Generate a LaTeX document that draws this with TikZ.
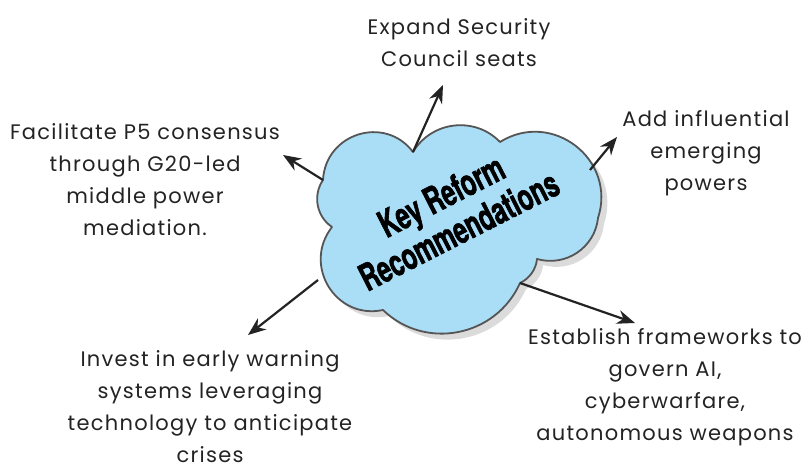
\documentclass[tikz,border=0pt]{standalone}
\usepackage{fontspec}
\setmainfont[LetterSpace=6]{Poppins}
\newfontfamily\headfont[FakeStretch=0.66, FakeBold=1.5]{texgyreheros-bold.otf}
\usetikzlibrary{positioning, arrows.meta, shadows}
\definecolor{cloudblue}{RGB}{170,222,246}
\definecolor{cloudline}{RGB}{85,85,85}
\definecolor{ink}{RGB}{35,35,35}
\tikzset{
    cloudbody/.style={draw=cloudline, line width=1.8pt, fill=cloudblue, line join=round,
        drop shadow={fill=black!14, opacity=1, shadow xshift=6pt, shadow yshift=-6pt}},
    cloudtitle/.style={font=\headfont\fontsize{37}{39}\selectfont, text=black, align=center, rotate=27},
    idea/.style={font=\fontsize{21}{32}\selectfont, text=ink, align=center, inner sep=0pt},
    pointer/.style={draw=ink, line width=2.2pt, -{Stealth[length=18pt, width=14pt]}}
}
\begin{document}
\begin{tikzpicture}[x=1pt, y=1pt]
	\useasboundingbox (0,0) rectangle (806,466);
	% the cloud, puff by puff
	\path[cloudbody] (413,314) to[out=127, in=87, looseness=1.27] (323,286)
		to[out=236, in=146] (332,239)
		to[out=232, in=192, looseness=1.27] (383,156)
		to[out=-44, in=-114, looseness=1.08] (520,183)
		to[out=25, in=-95, looseness=0.9] (537,207)
		to[out=-16, in=-96, looseness=1.04] (598,248)
		to[out=72, in=32, looseness=1.27] (500,324)
		to[out=134, in=59, looseness=1.06] cycle;
	\node(Title)[cloudtitle] at (450,253) {Key Reform\\Recommendations};
	\node(Expand)[idea] at (459,423) {Expand Security\\Council seats};
	\node(Add)[idea] at (706,313) {Add influential\\emerging\\powers};
	\node(Facilitate)[idea] at (145,286) {Facilitate P5 consensus\\through G20-led\\middle power\\mediation.};
	\node(Invest)[idea] at (210,59) {Invest in early warning\\systems leveraging\\technology to anticipate\\crises};
	\node(Establish)[idea] at (665,79) {Establish frameworks to\\govern AI,\\cyberwarfare,\\autonomous weapons};
	% where the arrows leave the cloud
	\coordinate(ExpandFoot) at (413,314);
	\coordinate(AddFoot) at (590,296);
	\coordinate(FacilitateFoot) at (323,286);
	\coordinate(InvestFoot) at (318,186);
	\coordinate(EstablishFoot) at (520,183);
	% arrow tips
	\coordinate(ExpandTip) at (443,381);
	\coordinate(AddTip) at (617,329);
	\coordinate(FacilitateTip) at (283,311);
	\coordinate(InvestTip) at (248,131);
	\coordinate(EstablishTip) at (635,143);
	\draw[pointer](ExpandFoot)--(ExpandTip);
	\draw[pointer](AddFoot)--(AddTip);
	\draw[pointer](FacilitateFoot)--(FacilitateTip);
	\draw[pointer](InvestFoot)--(InvestTip);
	\draw[pointer](EstablishFoot)--(EstablishTip);
\end{tikzpicture}
\end{document}
